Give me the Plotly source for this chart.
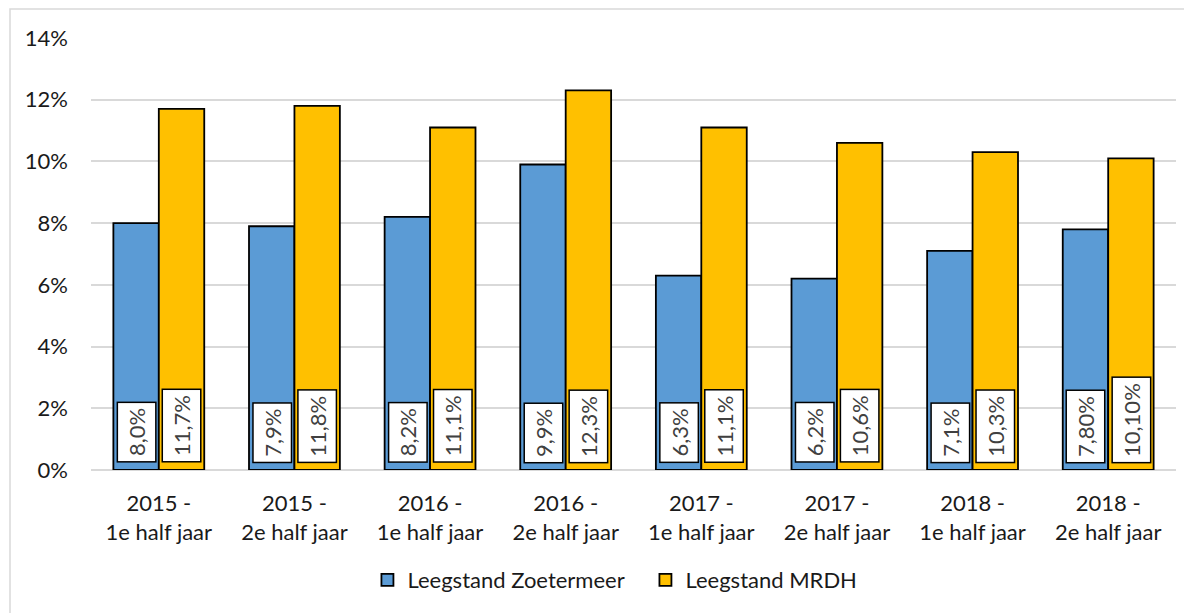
import plotly.graph_objects as go

categories = ["2015 -<br>1e half jaar", "2015 -<br>2e half jaar", "2016 -<br>1e half jaar",
              "2016 -<br>2e half jaar", "2017 -<br>1e half jaar", "2017 -<br>2e half jaar",
              "2018 -<br>1e half jaar", "2018 -<br>2e half jaar"]
zoetermeer = [8.0, 7.9, 8.2, 9.9, 6.3, 6.2, 7.1, 7.8]
mrdh = [11.7, 11.8, 11.1, 12.3, 11.1, 10.6, 10.3, 10.1]
zoetermeer_labels = ["8,0%", "7,9%", "8,2%", "9,9%", "6,3%", "6,2%", "7,1%", "7,80%"]
mrdh_labels = ["11,7%", "11,8%", "11,1%", "12,3%", "11,1%", "10,6%", "10,3%", "10,10%"]
y_ticks = [0, 2, 4, 6, 8, 10, 12, 14]

FONT = "Lato"
# page body has an 8px margin, so the figure is drawn 8px right/down
W, H = 1184, 605
ML, MR, MT, MB = 83, 16, 30, 143
plot_w = W - ML - MR
plot_h = H - MT - MB
bargap = 0.33
cat_w = plot_w / len(categories)
half_bar = cat_w * (1 - bargap) / 4

fig = go.Figure()
fig.add_trace(go.Bar(x=categories, y=zoetermeer, name="Leegstand Zoetermeer",
                     marker=dict(color="#5B9BD5", line=dict(color="#000000", width=1.8))))
fig.add_trace(go.Bar(x=categories, y=mrdh, name="Leegstand MRDH",
                     marker=dict(color="#FFC000", line=dict(color="#000000", width=1.8))))

annotations = []
for labels, shift in ((zoetermeer_labels, -half_bar), (mrdh_labels, half_bar)):
    for cat, lab in zip(categories, labels):
        annotations.append(dict(x=cat, y=0, xref="x", yref="y", text=lab, showarrow=False,
                                textangle=-90, xshift=shift, yanchor="bottom", yshift=7,
                                font=dict(family=FONT, size=22, color="#404040"),
                                bgcolor="#FFFFFF", bordercolor="#000000", borderwidth=1.5,
                                borderpad=5))

fig.update_layout(
    width=W, height=H,
    margin=dict(l=ML, r=MR, t=MT, b=MB, autoexpand=False),
    paper_bgcolor="#FFFFFF", plot_bgcolor="#FFFFFF",
    barmode="group", bargap=bargap, bargroupgap=0,
    font=dict(family=FONT, size=22, color="#1a1a1a"),
    showlegend=True,
    legend=dict(orientation="h", x=0.511, xanchor="center", y=-0.206, yanchor="top",
                font=dict(family=FONT, size=22, color="#1a1a1a"), traceorder="normal",
                itemwidth=30, entrywidth=233, entrywidthmode="pixels"),
    xaxis=dict(showgrid=False, showline=False, ticks="", tickfont=dict(size=22),
               automargin=False, ticklabelstandoff=18),
    yaxis=dict(range=[0, 14], tickvals=y_ticks, ticktext=[f"{v}%" for v in y_ticks],
               showgrid=True, gridcolor="#D9D9D9", gridwidth=1.5, zeroline=True,
               zerolinecolor="#D9D9D9", zerolinewidth=1.5, showline=False, ticks="",
               ticklabelstandoff=22, tickfont=dict(size=22), automargin=False),
    annotations=annotations,
    shapes=[dict(type="rect", xref="paper", yref="paper",
                 x0=(2 - ML) / plot_w, x1=1.2, y0=-0.6, y1=(H - MB - 1) / plot_h,
                 line=dict(color="#D9D9D9", width=1.5), fillcolor="rgba(0,0,0,0)", layer="below")],
)

fig.write_html("out.html")
